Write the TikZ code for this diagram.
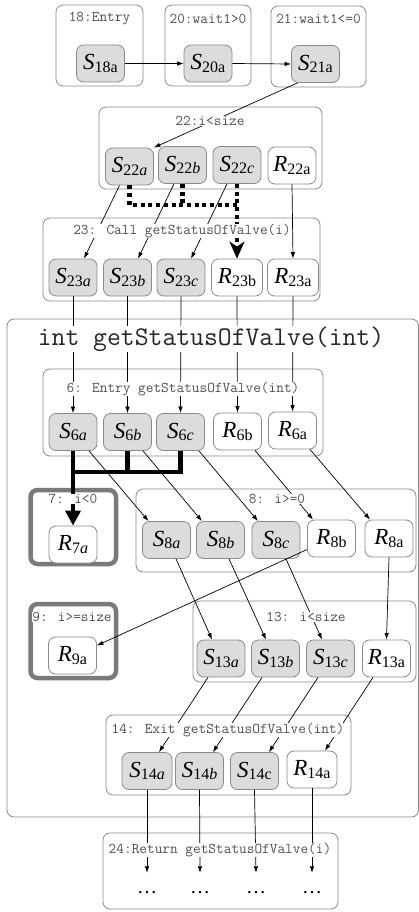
\documentclass[tikz,border=0pt]{standalone}
\usepackage{fontspec}
\setmainfont{Liberation Serif}
\usetikzlibrary{arrows.meta}
\newcommand\nm[2]{\textit{#1}\raisebox{-2.5pt}{\fontsize{16}{16}\selectfont #2}}
\definecolor{bordergray}{HTML}{8A8A8A}
\definecolor{sfill}{HTML}{DCDCDC}
\definecolor{thickgray}{HTML}{7A7A7A}
\definecolor{labeltext}{HTML}{505050}
\begin{document}
\begin{tikzpicture}[x=1pt,y=-1pt,
 cont/.style={draw=bordergray, fill=white, rounded corners=7pt, line width=0.8pt},
 tcont/.style={draw=thickgray, fill=white, rounded corners=7pt, line width=4.5pt},
 snode/.style={draw=bordergray, fill=sfill, rounded corners=7pt, line width=0.8pt, minimum width=48pt, minimum height=37pt, inner sep=0pt, font=\fontsize{23}{23}\selectfont},
 rnode/.style={snode, fill=white},
 clab/.style={fill=white, inner sep=0.5pt, text=labeltext, font=\fontsize{14.9}{15}\selectfont\ttfamily},
 arr/.style={-{Latex[length=6.5pt,width=4.5pt]}, line width=0.7pt},
 dotline/.style={line width=4.5pt, dash pattern=on 4pt off 3.7pt},
 thickline/.style={line width=4.5pt},
 dotsn/.style={inner sep=0pt, minimum height=40pt, font=\fontsize{20}{20}\selectfont}
]
\useasboundingbox (0,0) rectangle (419,912);
% containers
\draw[cont] (56,5) rectangle (143,86);
\draw[cont] (165,5) rectangle (251,86);
\draw[cont] (271,6) rectangle (366,87);
\draw[cont] (99,107) rectangle (322,189);
\draw[cont] (43,218) rectangle (320,301);
\draw[cont] (7,319) rectangle (418.5,817);
\draw[cont] (43,369) rectangle (323,456);
\draw[tcont] (30.5,490) rectangle (116,564);
\draw[cont] (136,489) rectangle (416,572);
\draw[tcont] (30.5,604) rectangle (116,678);
\draw[cont] (193,601) rectangle (416,682);
\draw[cont] (106,715) rectangle (351,795);
\draw[cont] (103,833) rectangle (338,909);

% nodes
\path
 node[snode] (S18a) at (100.5,63.5) {\nm{S}{18a}}
 node[snode] (S20a) at (208,63.5) {\nm{S}{20a}}
 node[snode] (S21a) at (315.5,64) {\nm{S}{21a}}
 node[snode] (S22a) at (129.5,166.5) {\nm{S}{22\textit{a}}}
 node[snode] (S22b) at (182.5,165) {\nm{S}{22\textit{b}}}
 node[snode] (S22c) at (237,165) {\nm{S}{22\textit{c}}}
 node[rnode] (R22a) at (292,165.5) {\nm{R}{22a}}
 node[snode] (S23a) at (73,277.5) {\nm{S}{23\textit{a}}}
 node[snode] (S23b) at (127.5,277.5) {\nm{S}{23\textit{b}}}
 node[snode] (S23c) at (181,277.5) {\nm{S}{23\textit{c}}}
 node[rnode, minimum width=51pt] (R23b) at (237,277.5) {\nm{R}{23b}}
 node[rnode, minimum width=51pt] (R23a) at (293,277.5) {\nm{R}{23a}}
 node[snode] (S6a) at (73,432) {\nm{S}{6\textit{a}}}
 node[snode] (S6b) at (127.5,432) {\nm{S}{6\textit{b}}}
 node[snode] (S6c) at (180.5,432) {\nm{S}{6\textit{c}}}
 node[rnode] (R6b) at (237.5,431.5) {\nm{R}{6b}}
 node[rnode] (R6a) at (292.5,430.5) {\nm{R}{6a}}
 node[rnode] (R7a) at (73,544.5) {\nm{R}{7\textit{a}}}
 node[snode] (S8a) at (166.5,540) {\nm{S}{8\textit{a}}}
 node[snode] (S8b) at (220.5,540) {\nm{S}{8\textit{b}}}
 node[snode] (S8c) at (276,540) {\nm{S}{8\textit{c}}}
 node[rnode] (R8b) at (331.5,538.5) {\nm{R}{8b}}
 node[rnode] (R8a) at (389,538.5) {\nm{R}{8a}}
 node[rnode] (R9a) at (72.5,655.5) {\nm{R}{9a}}
 node[snode] (S13a) at (221,658.5) {\nm{S}{13\textit{a}}}
 node[snode] (S13b) at (275.5,658.5) {\nm{S}{13\textit{b}}}
 node[snode] (S13c) at (330.5,658.5) {\nm{S}{13\textit{c}}}
 node[rnode] (R13a) at (386.5,658.5) {\nm{R}{13a}}
 node[snode, minimum width=50pt] (S14a) at (147,771) {\nm{S}{14\textit{a}}}
 node[snode] (S14b) at (199.5,771) {\nm{S}{14\textit{b}}}
 node[snode] (S14c) at (254.5,771) {\nm{S}{14c}}
 node[rnode, minimum width=50pt] (R14a) at (312,769.5) {\nm{R}{14a}}
 node[dotsn] (d1) at (147,893) {\dots}
 node[dotsn] (d2) at (200,893) {\dots}
 node[dotsn] (d3) at (256,893) {\dots}
 node[dotsn] (d4) at (312,893) {\dots};

% dotted and thick connectors
\coordinate (dj) at (237,205);
\draw[dotline] (S22a.south) |- (dj);
\draw[dotline] (S22b.south) -- (S22b.south |- dj);
\draw[dotline, -{Stealth[length=17pt,width=15pt,inset=5pt]}] (S22c.south) -- (R23b.north);
\coordinate (tj) at (73,472);
\draw[thickline, -{Triangle[length=15pt,width=15pt]}] (S6a.south) -- (R7a.north);
\draw[thickline] (S6c.south) |- (tj);
\draw[thickline] (S6b.south) -- (S6b.south |- tj);

% thin connectors
\draw[arr] (S18a.east) -- (S20a.west);
\draw[arr] (S20a.east) -- (S21a.west);
\draw[arr] ([xshift=-18pt]S21a.south) -- (S22a.north east);
\draw[arr] ([xshift=-10pt]S22a.south) -- ([xshift=11pt]S23a.north);
\draw[arr] ([xshift=-8.5pt]S22b.south) -- ([xshift=10.5pt]S23b.north);
\draw[arr] ([xshift=-10pt]S22c.south) -- ([xshift=10pt]S23c.north);
\draw[arr] (R22a.south) -- (R23a.north);
\draw[arr] (S23a.south) -- (S6a.north);
\draw[arr] (S23b.south) -- (S6b.north);
\draw[arr] (S23c.south) -- (S6c.north);
\draw[arr] (R23b.south) -- (R6b.north);
\draw[arr] (R23a.south) -- (R6a.north);
\draw[arr] ([xshift=16pt]S6a.south) -- ([xshift=-18pt]S8a.north);
\draw[arr] ([xshift=15.5pt]S6b.south) -- ([xshift=-18.5pt]S8b.north);
\draw[arr] ([xshift=18.5pt]S6c.south) -- ([xshift=-18pt]S8c.north);
\draw[arr] ([xshift=17.5pt]R6b.south) -- ([xshift=-18.5pt]R8b.north);
\draw[arr] ([xshift=17.5pt]R6a.south) -- ([xshift=-19pt]R8a.north);
\draw[arr] ([xshift=9.5pt]S8a.south) -- ([xshift=-9pt]S13a.north);
\draw[arr] ([xshift=8.5pt]S8b.south) -- ([xshift=-9.5pt]S13b.north);
\draw[arr] ([xshift=10pt]S8c.south) -- ([xshift=-8.5pt]S13c.north);
\draw[arr] ([yshift=-11pt]R8b.west) -- ([yshift=10pt]R9a.east);
\draw[arr] (R8a.south) -- (R13a.north);
\draw[arr] ([xshift=-13pt]S13a.south) -- ([xshift=12pt]S14a.north);
\draw[arr] ([xshift=-13.5pt]S13b.south) -- ([xshift=13.5pt]S14b.north);
\draw[arr] ([xshift=-12.5pt]S13c.south) -- ([xshift=14.5pt]S14c.north);
\draw[arr] ([xshift=-13.5pt]R13a.south) -- ([xshift=13pt]R14a.north);
\draw[arr] (S14a.south) -- (d1.north);
\draw[arr] (S14b.south) -- (d2.north);
\draw[arr] (S14c.south) -- (d3.north);
\draw[arr] (R14a.south) -- (d4.north);

% container labels
\node[clab] (l18) at (99.5,19) {18:Entry};
\node[clab] (l20) at (208,19) {20:wait1>0};
\node[clab] (l21) at (318.5,19) {21:wait1<=0};
\node[clab] (l22) at (210,121) {22:i<size};
\node[clab] (l23) at (182,231) {23: Call getStatusOfValve(i)};
\node[clab, text=black!85, font=\fontsize{26.9}{27}\selectfont\ttfamily] (lbig) at (211,339) {int getStatusOfValve(int)};
\node[clab] (l6) at (183,389) {6: Entry getStatusOfValve(int)};
\node[clab] (l7) at (73,499) {7: i<0};
\node[clab] (l8) at (277,499) {8: i>=0};
\node[clab] (l9) at (72,617) {9: i>=size};
\node[clab] (l13) at (306,617) {13: i<size};
\node[clab] (l14) at (228,730) {14: Exit getStatusOfValve(int)};
\node[clab] (l24) at (220,850) {24:Return getStatusOfValve(i)};
\end{tikzpicture}
\end{document}
